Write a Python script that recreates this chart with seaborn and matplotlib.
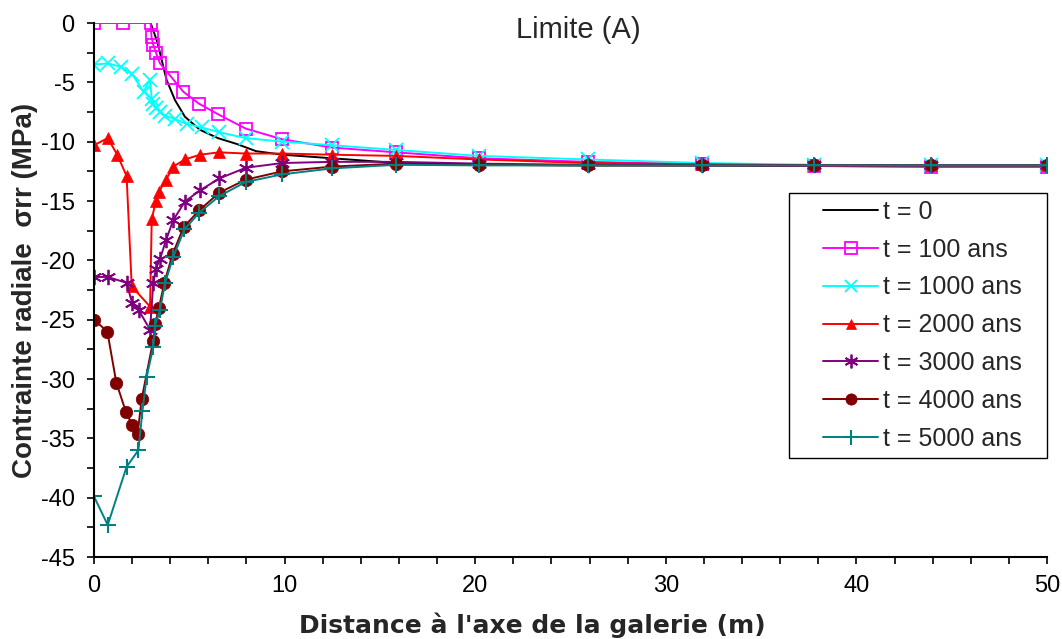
import matplotlib
matplotlib.use("Agg")
import matplotlib.pyplot as plt
from matplotlib.patches import Rectangle
from matplotlib.ticker import MultipleLocator
import seaborn as sns
import pandas as pd

# ---------------- data ----------------
labels = ["t = 0", "t = 100 ans", "t = 1000 ans", "t = 2000 ans",
          "t = 3000 ans", "t = 4000 ans", "t = 5000 ans"]

x0 = [0, 1.5, 2.97, 3.15, 3.34, 3.64, 3.81, 4.25, 4.77, 5.56, 6.5, 7.5, 8.5,
      9.9, 12.5, 15.9, 20.2, 25.9, 31.9, 37.8, 43.9, 50]
y0 = [0, 0, 0, -0.8, -1.7, -3.7, -4.8, -6.5, -7.9, -9.0, -9.7, -10.2, -10.8,
      -11.1, -11.4, -11.8, -11.95, -12.0, -12.0, -12.05, -12.1, -12.1]

x100 = [0, 1.5, 2.97, 3.02, 3.11, 3.25, 3.46, 4.08, 4.69, 5.51, 6.52, 7.96,
        9.88, 12.5, 15.85, 20.2, 25.9, 31.9, 37.8, 43.9, 50]
y100 = [0, 0, 0, -1.2, -1.85, -2.5, -3.4, -4.6, -5.8, -6.8, -7.7, -8.9,
        -9.8, -10.5, -10.9, -11.4, -11.7, -11.9, -12.05, -12.1, -12.1]

x1000 = [0, 0.75, 1.4, 2.0, 2.6, 2.94, 3.03, 3.11, 3.25, 3.46, 3.73, 4.25,
         4.86, 5.65, 6.56, 7.96, 9.88, 12.5, 15.85, 20.2, 25.9, 31.9, 37.8,
         43.9, 50]
y1000 = [-3.5, -3.4, -3.7, -4.3, -5.8, -4.8, -6.4, -6.8, -7.2, -7.5, -7.8,
         -8.1, -8.5, -8.8, -9.2, -9.7, -10.0, -10.3, -10.7, -11.2, -11.5,
         -11.8, -11.95, -12.0, -12.0]

x2000 = [0, 0.72, 1.22, 1.71, 1.98, 2.94, 3.03, 3.25, 3.41, 3.78, 4.16, 4.77,
         5.56, 6.56, 7.96, 9.88, 12.5, 15.85, 20.2, 25.9, 31.9, 37.8, 43.9, 50]
y2000 = [-10.3, -9.7, -11.1, -12.9, -22.2, -23.9, -16.5, -15.0, -14.2, -13.2,
         -12.1, -11.5, -11.1, -10.9, -11.0, -11.0, -11.1, -11.2, -11.5, -11.8,
         -11.9, -12.0, -12.0, -12.0]

x3000 = [0, 0.72, 1.71, 2.0, 2.35, 2.94, 3.11, 3.25, 3.46, 3.78, 4.16, 4.77,
         5.56, 6.58, 7.96, 9.88, 12.5, 15.85, 20.2, 25.9, 31.9, 37.8, 43.9, 50]
y3000 = [-21.4, -21.4, -21.9, -23.6, -24.2, -25.85, -21.9, -20.7, -19.9,
         -18.3, -16.6, -15.05, -14.1, -13.1, -12.2, -11.8, -11.7, -11.7,
         -11.85, -11.95, -12.0, -12.0, -12.0, -12.0]

x4000 = [0, 0.7, 1.17, 1.68, 2.01, 2.29, 2.5, 3.1, 3.2, 3.4, 3.69, 4.12, 4.7,
         5.51, 6.57, 7.96, 9.88, 12.5, 15.85, 20.2, 25.9, 31.9, 37.8, 43.9, 50]
y4000 = [-25.0, -26.0, -30.3, -32.8, -33.9, -34.6, -31.7, -26.8, -25.4,
         -24.05, -21.9, -19.5, -17.2, -15.8, -14.3, -13.2, -12.5, -12.1,
         -11.85, -11.95, -12.0, -12.0, -12.0, -12.0, -12.0]

x5000 = [0, 0.72, 1.71, 2.33, 2.54, 2.76, 3.11, 3.2, 3.46, 3.73, 4.16, 4.74,
         5.51, 6.56, 7.96, 9.88, 12.5, 15.85, 20.2, 25.9, 31.9, 37.8, 43.9, 50]
y5000 = [-39.9, -42.3, -37.4, -36.0, -32.7, -29.85, -27.3, -25.5, -24.2,
         -21.9, -19.7, -17.4, -16.0, -14.6, -13.4, -12.75, -12.25, -11.95,
         -12.0, -12.0, -12.0, -12.0, -12.0, -12.0]

xs = [x0, x100, x1000, x2000, x3000, x4000, x5000]
ys = [y0, y100, y1000, y2000, y3000, y4000, y5000]

# ---------------- styles ----------------
colors = ["#000000", "#FF00FF", "#00FFFF", "#FF0000", "#800080", "#800000", "#008080"]
marker_styles = [
    dict(marker=None),
    dict(marker="s", markersize=9, markerfacecolor="none", markeredgewidth=1.3),
    dict(marker="x", markersize=10, markeredgewidth=1.3),
    dict(marker="^", markersize=8, markeredgewidth=0.5),
    dict(marker=(6, 2, 0), markersize=11, markeredgewidth=1.3),
    dict(marker="o", markersize=9, markeredgewidth=0.5),
    dict(marker="+", markersize=12, markeredgewidth=1.5),
]

sns.set_style("ticks")
plt.rcParams["font.family"] = ["Liberation Sans", "DejaVu Sans"]
plt.rcParams["axes.unicode_minus"] = False

fig = plt.figure(figsize=(10.62, 6.39), dpi=100)
ax = fig.add_axes([94 / 1062, 1 - 557 / 639, (1047 - 94) / 1062, (557 - 23) / 639])

for lab, x, y, c, ms in zip(labels, xs, ys, colors, marker_styles):
    df = pd.DataFrame({"x": x, "y": y})
    kw = dict(ms)
    if kw.get("marker") is not None:
        kw["markeredgecolor"] = c
    else:
        kw.pop("marker")
    sns.lineplot(data=df, x="x", y="y", sort=False, estimator=None, ax=ax,
                 color=c, linewidth=1.4, label=lab, **kw)

ax.set_xlim(0, 50)
ax.set_ylim(-45, 0)
ax.xaxis.set_major_locator(MultipleLocator(10))
ax.xaxis.set_minor_locator(MultipleLocator(2))
ax.yaxis.set_major_locator(MultipleLocator(5))
ax.yaxis.set_minor_locator(MultipleLocator(2.5))
ax.tick_params(which="both", direction="out", length=5, width=1.2, color="black")
ax.tick_params(axis="both", which="major", labelsize=17, colors="black")
ax.tick_params(axis="x", which="major", pad=8)
ax.tick_params(axis="y", which="major", pad=9)

for s in ["top", "right"]:
    ax.spines[s].set_visible(False)
for s in ["left", "bottom"]:
    ax.spines[s].set_linewidth(1.5)
    ax.spines[s].set_color("black")
    ax.spines[s].set_zorder(10)

ax.set_xlabel("Distance à l'axe de la galerie (m)", fontsize=18, fontweight="bold",
              family=["DejaVu Sans"])
ax.set_ylabel("Contrainte radiale  σrr (MPa)", fontsize=20, fontweight="bold")
ax.xaxis.set_label_coords(0.46, -0.104)
ax.yaxis.set_label_coords(-0.0588, 0.5)

fig.text(578 / 1062, 1 - 30 / 639, "Limite (A)", fontsize=21, ha="center", va="center")

# legend
handles, labs = ax.get_legend_handles_labels()
leg = ax.legend(handles, labs, loc="upper left",
                bbox_to_anchor=((823 - 94) / 953, (557 - 200) / 534),
                frameon=False, fontsize=18, borderpad=0, borderaxespad=0,
                handlelength=2.2, handletextpad=0.2, labelspacing=0.55,
                markerscale=0.9)
leg.set_zorder(6)
frame = Rectangle(((789 - 94) / 953, (557 - 458) / 534), (1047 - 789) / 953,
                  (458 - 193) / 534, transform=ax.transAxes, facecolor="white",
                  edgecolor="black", linewidth=1.0, zorder=5, clip_on=False)
ax.add_patch(frame)

fig.savefig("out.png", dpi=100)
